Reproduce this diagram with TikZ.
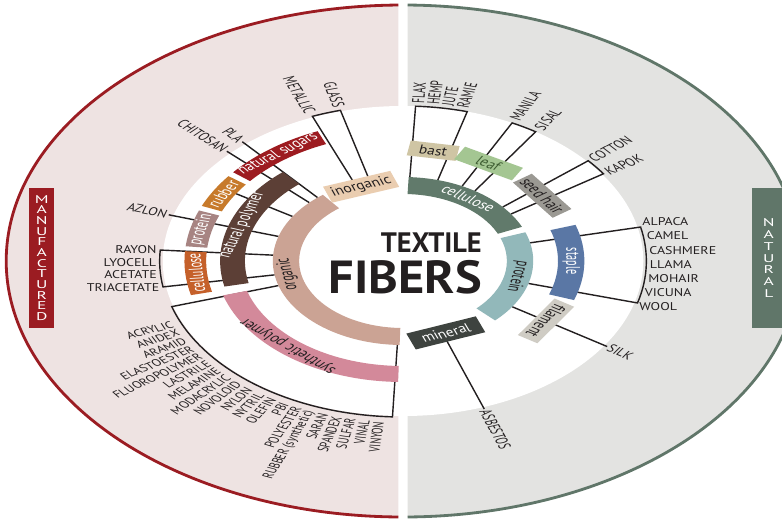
\documentclass[tikz,border=0pt]{standalone}
\usepackage{fontspec}
\setmainfont{PT Sans}
\definecolor{mfgred}{HTML}{9B1C22}
\definecolor{mfgbg}{HTML}{EEE3E2}
\definecolor{natsage}{HTML}{607669}
\definecolor{natbg}{HTML}{E3E3E1}
\definecolor{organictan}{HTML}{CBA394}
\definecolor{inorgtan}{HTML}{EACDB0}
\definecolor{polybrown}{HTML}{5C3F36}
\definecolor{synthpink}{HTML}{D3899A}
\definecolor{sugarred}{HTML}{9D1B20}
\definecolor{rubberorange}{HTML}{C77A2B}
\definecolor{protmauve}{HTML}{A78482}
\definecolor{cellorange}{HTML}{C5602A}
\definecolor{cellsage}{HTML}{617A6B}
\definecolor{protteal}{HTML}{92B8BA}
\definecolor{mineralgray}{HTML}{3E433F}
\definecolor{bastbeige}{HTML}{CFC5A4}
\definecolor{leafgreen}{HTML}{A4C692}
\definecolor{leafdark}{HTML}{3F5E33}
\definecolor{seedgray}{HTML}{9B9993}
\definecolor{stapleblue}{HTML}{5A77A5}
\definecolor{filagray}{HTML}{CFCCC4}
\definecolor{ink}{HTML}{231F20}

% start angle, end angle, inner radius, outer radius, colour
\newcommand{\ringband}[5]{%
  \fill[#5] (#1:#3) arc[start angle=#1, end angle=#2, radius=#3]
    -- (#2:#4) arc[start angle=#2, end angle=#1, radius=#4] -- cycle;}

\begin{document}
\begin{tikzpicture}[
  x=0.025cm, y=0.025cm,
  fiber/.style={font=\fontsize{8}{8}\selectfont, text=ink, inner sep=1pt, rotate=#1, xscale=0.8},
  fiber/.default=0,
  synthname/.style={fiber=#1, font=\fontsize{7}{7}\selectfont, xscale=1.125},
  bandtext/.style={font=\fontsize{9}{9}\selectfont, inner sep=0pt, rotate=#1, xscale=0.8},
  catbox/.style={font=\fontsize{9}{9}\selectfont, inner sep=0pt, minimum height=0.4cm, rotate=#1, xscale=0.8},
  leader/.style={draw=ink, line width=1pt},
  sidetab/.style={text=white, align=center, inner sep=0pt, minimum height=3.5cm},
  title/.style={text=ink, inner sep=0pt, xscale=#1},
]
\begin{scope}[xscale=1.55, transform shape]
\useasboundingbox (-260,-258) rectangle (244.5,261);

\fill[mfgbg] (90.67:256) arc[start angle=90.67, end angle=269.33, radius=256] -- cycle;
\draw[mfgred, line width=2pt] (90.67:256) arc[start angle=90.67, end angle=269.33, radius=256];
\fill[natbg] (89.33:256) arc[start angle=89.33, end angle=-89.33, radius=256] -- cycle;
\draw[natsage, line width=2pt] (89.33:256) arc[start angle=89.33, end angle=-89.33, radius=256];
\fill[white] (0,0) circle (155);

\node[sidetab, fill=mfgred, minimum width=0.4cm, font=\fontsize{8}{7.6}\selectfont] (mfgtab) at (-233,3) {M\\A\\N\\U\\F\\A\\C\\T\\U\\R\\E\\D};
\node[sidetab, fill=natsage, minimum width=0.55cm, font=\fontsize{8}{8.5}\selectfont] (nattab) at (236,3) {N\\A\\T\\U\\R\\A\\L};

% leader lines and brackets
\draw[leader] (112:86) -- (112:156) arc[start angle=112, end angle=105, radius=156] -- (105:86);
\draw[leader] (176:84) -- (176:157) arc[start angle=176, end angle=189.5, radius=157] -- (189.5:84);
\draw[leader] (197:84) -- (197:156) arc[start angle=197, end angle=267.5, radius=156] -- (267.5:84);
\draw[leader] (148:84) -- (148:127);
\draw[leader] (87:84) -- (87:155) arc[start angle=87, end angle=74.5, radius=155] -- (74.5:84);
\draw[leader] (63:84) -- (63:155) arc[start angle=63, end angle=56.5, radius=155] -- (56.5:84);
\draw[leader] (40:84) -- (40:156) arc[start angle=40, end angle=34, radius=156] -- (34:84);
\draw[leader] (12.5:84) -- (12.5:157) arc[start angle=12.5, end angle=-15.5, radius=157] -- (-15.5:84);

\node[fiber=-44, anchor=east] (chitosan) at (136:158) {CHITOSAN};
\node[fiber=-49, anchor=east] (pla) at (131:158) {PLA};
\node[fiber=-17, anchor=east] (azlon) at (163:158) {AZLON};
\node[fiber=-33, anchor=west] (silk) at (-33:157) {SILK};
\node[fiber=-70.5, anchor=west] (asbestos) at (-70.5:157) {ASBESTOS};
\draw[leader] (136:84) -- (chitosan.east);
\draw[leader] (131:84) -- (pla.east);
\draw[leader] (163:84) -- (azlon.east);
\draw[leader] (-33:84) -- (silk.west);
\draw[leader] (-70.5:85) -- (asbestos.west);

% rings
\ringband{128}{268.5}{67}{84}{organictan}
\ringband{24}{87.5}{67}{84}{cellsage}
\ringband{-45}{20}{67}{84}{protteal}
\ringband{131}{192.5}{102}{118}{polybrown}
\ringband{196.5}{268.5}{105}{121}{synthpink}
\ringband{113}{141}{127}{141}{sugarred}
\ringband{143}{157}{127}{141}{rubberorange}
\ringband{159}{174}{127}{141}{protmauve}
\ringband{176}{194}{127}{141}{cellorange}
\ringband{-19.5}{18}{100}{117}{stapleblue}

\node[bandtext=100, text=ink] (organic) at (190:75.5) {organic};
\node[bandtext=-34, text=white] (cellnat) at (56:75.5) {cellulose};
\node[bandtext=-102, text=ink] (protnat) at (-12:75.5) {protein};
\node[bandtext=71, text=white] (natpoly) at (161:110) {natural polymer};
\node[bandtext=139, text=ink] (synpoly) at (229:113) {synthetic polymer};
\node[bandtext=37, text=white] (sugars) at (127:134) {natural sugars};
\node[bandtext=60, text=white] (rubber) at (150:134) {rubber};
\node[bandtext=76.5, text=white] (protmfg) at (166.5:134) {protein};
\node[bandtext=95, text=white] (cellmfg) at (185:134) {cellulose};
\node[bandtext=-90, text=white] (staple) at (0:108.5) {staple};

\node[catbox=20, fill=inorgtan, text=ink, minimum width=1.44cm, minimum height=0.425cm] (inorganic) at (110:79) {inorganic};
\node[catbox=21, fill=mineralgray, text=white, minimum width=1.5cm, minimum height=0.425cm] (mineral) at (-69:77) {mineral};
\node[catbox=-10, fill=bastbeige, text=ink, minimum width=1.0cm, minimum height=0.375cm] (bast) at (80:112) {bast};
\node[catbox=-29.5, fill=leafgreen, text=leafdark, minimum width=1.34cm, minimum height=0.36cm] (leaf) at (60.5:112) {leaf};
\node[catbox=-54, fill=seedgray, text=ink, minimum width=1.36cm, minimum height=0.375cm] (seedhair) at (36:111) {seed hair};
\node[catbox=-123, fill=filagray, text=ink, minimum width=1.36cm, minimum height=0.375cm] (filament) at (-33:110) {filament};

% centre title
\node[title=0.65, font=\bfseries\fontsize{20}{20}\selectfont, anchor=base east] (textile) at (51,9) {TEXTILE};
\node[title=0.7, font=\bfseries\fontsize{33}{33}\selectfont, anchor=base east] (fibers) at (51,-32) {FIBERS};

% fibre names
\node[fiber=-68, anchor=east] (metallic) at (112:158) {METALLIC};
\node[fiber=-75, anchor=east] (glass) at (105:158) {GLASS};
\node[fiber, anchor=east] (rayon) at (176:158) {RAYON};
\node[fiber, anchor=east] (lyocell) at (180.4:158) {LYOCELL};
\node[fiber, anchor=east] (acetate) at (185:158) {ACETATE};
\node[fiber, anchor=east] (triacetate) at (189.5:158) {TRIACETATE};
\node[fiber=86.5, anchor=west] (flax) at (86.5:157) {FLAX};
\node[fiber=83, anchor=west] (hemp) at (83:157) {HEMP};
\node[fiber=79.5, anchor=west] (jute) at (79.5:157) {JUTE};
\node[fiber=76, anchor=west] (ramie) at (76:157) {RAMIE};
\node[fiber=63, anchor=west] (manila) at (63:157) {MANILA};
\node[fiber=56.5, anchor=west] (sisal) at (56.5:157) {SISAL};
\node[fiber=40, anchor=west] (cotton) at (40:157) {COTTON};
\node[fiber=34, anchor=west] (kapok) at (34:157) {KAPOK};
\foreach \fname [count=\k] in {ALPACA, CAMEL, CASHMERE, LLAMA, MOHAIR, VICUNA, WOOL} {
  \pgfmathsetmacro\ang{14.3-(\k-1)*5.2}
  \node[fiber, anchor=west] (animal\k) at (\ang:158) {\fname};
}
\foreach \fname [count=\k] in {ACRYLIC, ANIDEX, ARAMID, ELASTOESTER, FLUOROPOLYMER, LASTRILE, MELAMINE, MODACRYLIC, NOVOLOID, NYLON, NYTRIL, OLEFIN, PBI, POLYESTER, RUBBER (synthetic), SARAN, SPANDEX, SULFAR, VINAL, VINYON} {
  \pgfmathsetmacro\ang{203+(\k-1)*3.232}
  \node[synthname=\ang-180, anchor=east] (synth\k) at (\ang:160) {\fname};
}
\end{scope}
\end{tikzpicture}
\end{document}
